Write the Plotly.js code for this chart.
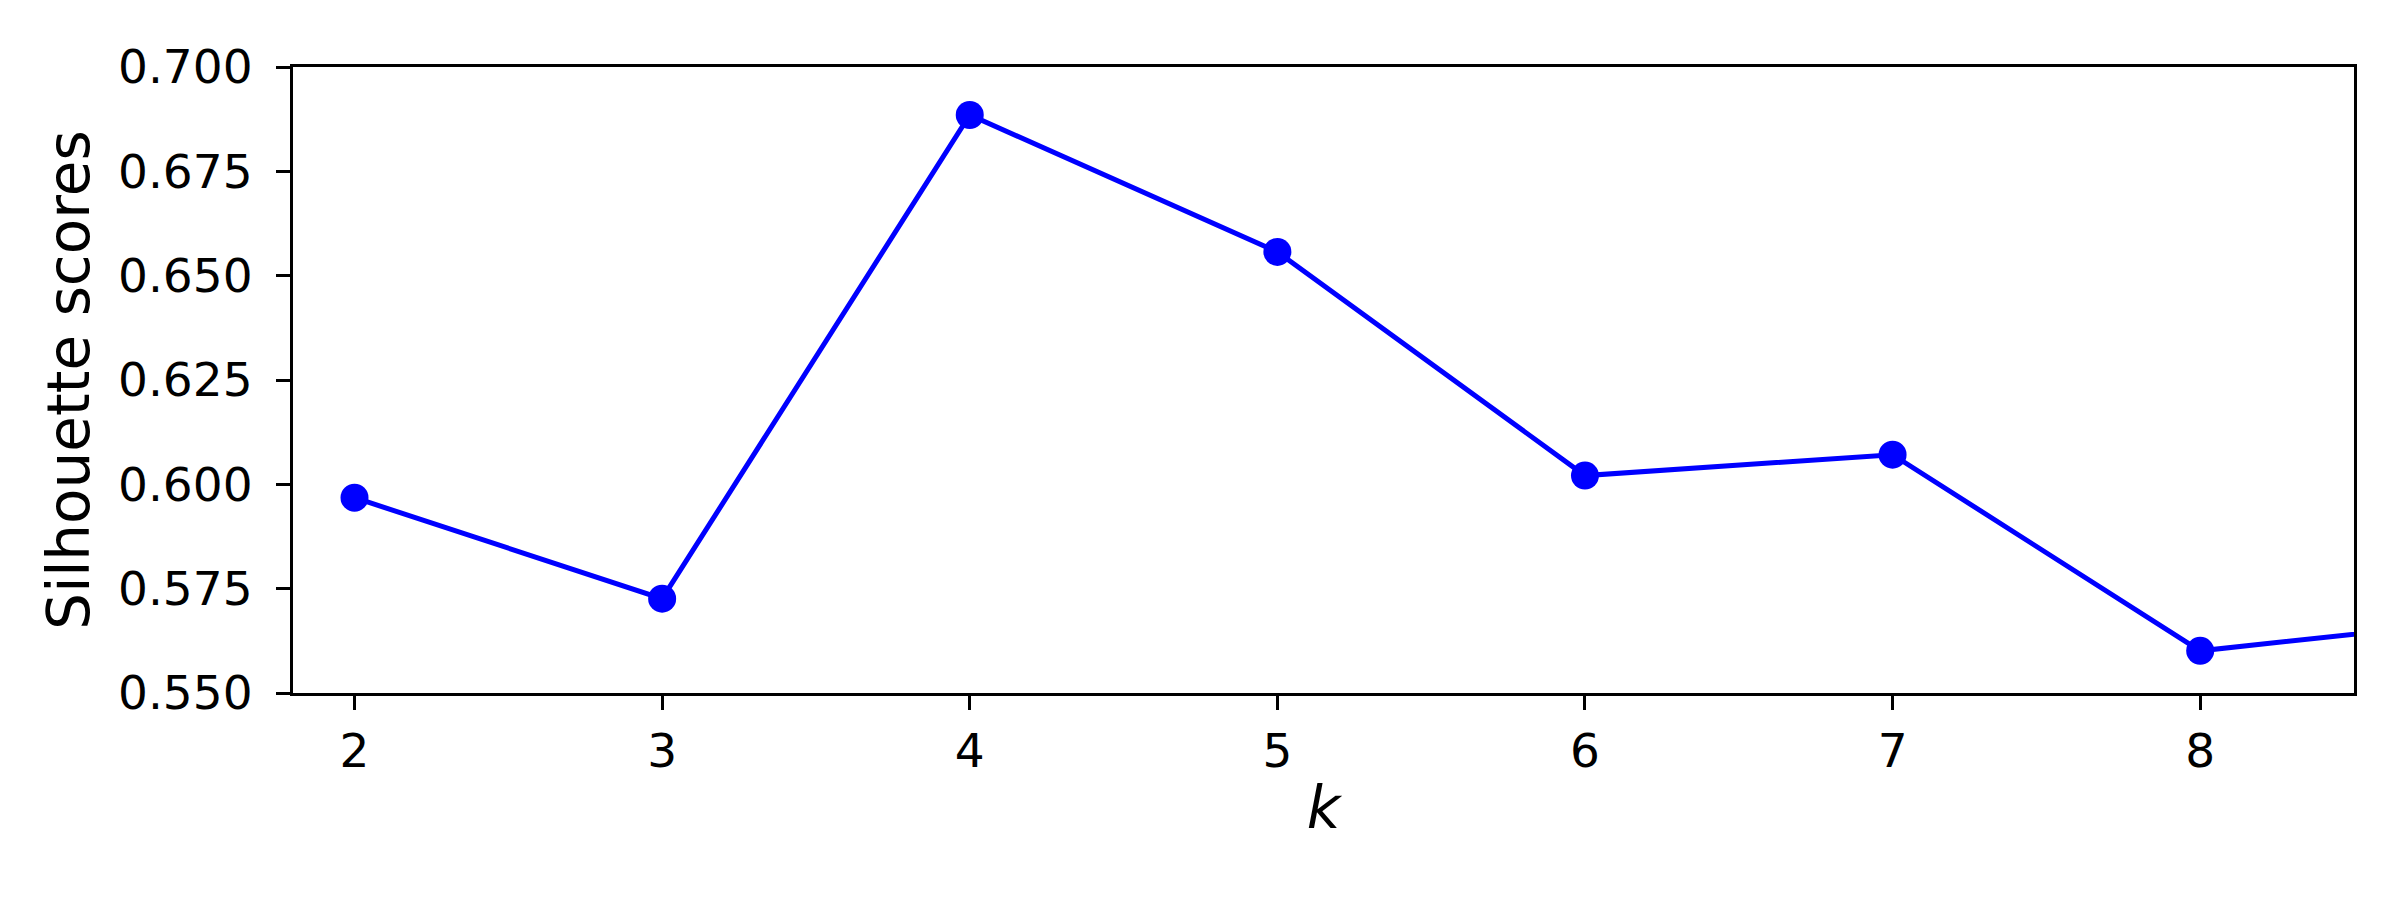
<!DOCTYPE html>
<html>
<head>
<meta charset="utf-8">
<script src="https://cdn.plot.ly/plotly-3.0.1.min.js"></script>
<style>html,body{margin:0;padding:0;background:#fff;}</style>
</head>
<body>
<div id="chart" style="width:2400px;height:900px;"></div>
<script>
const kValues = [2, 3, 4, 5, 6, 7, 8, 9];
const silhouetteScores = [0.5968, 0.5726, 0.6885, 0.6557, 0.6021, 0.6071, 0.5601, 0.5681];
const yTickValues = [0.55, 0.575, 0.6, 0.625, 0.65, 0.675, 0.7];
const xTickValues = [2, 3, 4, 5, 6, 7, 8];

const trace = {
  x: kValues,
  y: silhouetteScores,
  mode: 'lines+markers',
  type: 'scatter',
  line: {color: '#0000ff', width: 5},
  marker: {color: '#0000ff', size: 28},
  cliponaxis: true,
  showlegend: false
};

const fontFam = 'DejaVu Sans, sans-serif';
const layout = {
  width: 2400,
  height: 900,
  paper_bgcolor: '#ffffff',
  plot_bgcolor: '#ffffff',
  margin: {l: 293, r: 46, t: 67, b: 207},
  font: {family: fontFam, color: '#000000'},
  xaxis: {
    range: [1.8, 8.5],
    tickvals: xTickValues,
    ticktext: xTickValues.map(String),
    showgrid: false,
    zeroline: false,
    showline: true,
    mirror: true,
    linecolor: '#000000',
    linewidth: 3,
    ticks: 'outside',
    ticklen: 14,
    tickwidth: 3,
    tickcolor: '#000000',
    ticklabelstandoff: 1,
    tickfont: {size: 47, family: fontFam, color: '#000000'},
    title: {text: '<i>k</i>', font: {size: 58, family: fontFam, color: '#000000'}, standoff: 10}
  },
  yaxis: {
    range: [0.55, 0.7],
    tickvals: yTickValues,
    ticktext: yTickValues.map(v => v.toFixed(3)),
    showgrid: false,
    zeroline: false,
    showline: true,
    mirror: true,
    linecolor: '#000000',
    linewidth: 3,
    ticks: 'outside',
    ticklen: 14,
    tickwidth: 3,
    tickcolor: '#000000',
    ticklabelstandoff: 14,
    tickfont: {size: 47, family: fontFam, color: '#000000'},
    title: {text: 'Silhouette scores', font: {size: 58, family: fontFam, color: '#000000'}, standoff: 10}
  }
};

Plotly.newPlot('chart', [trace], layout, {staticPlot: true, displayModeBar: false});
</script>
</body>
</html>
